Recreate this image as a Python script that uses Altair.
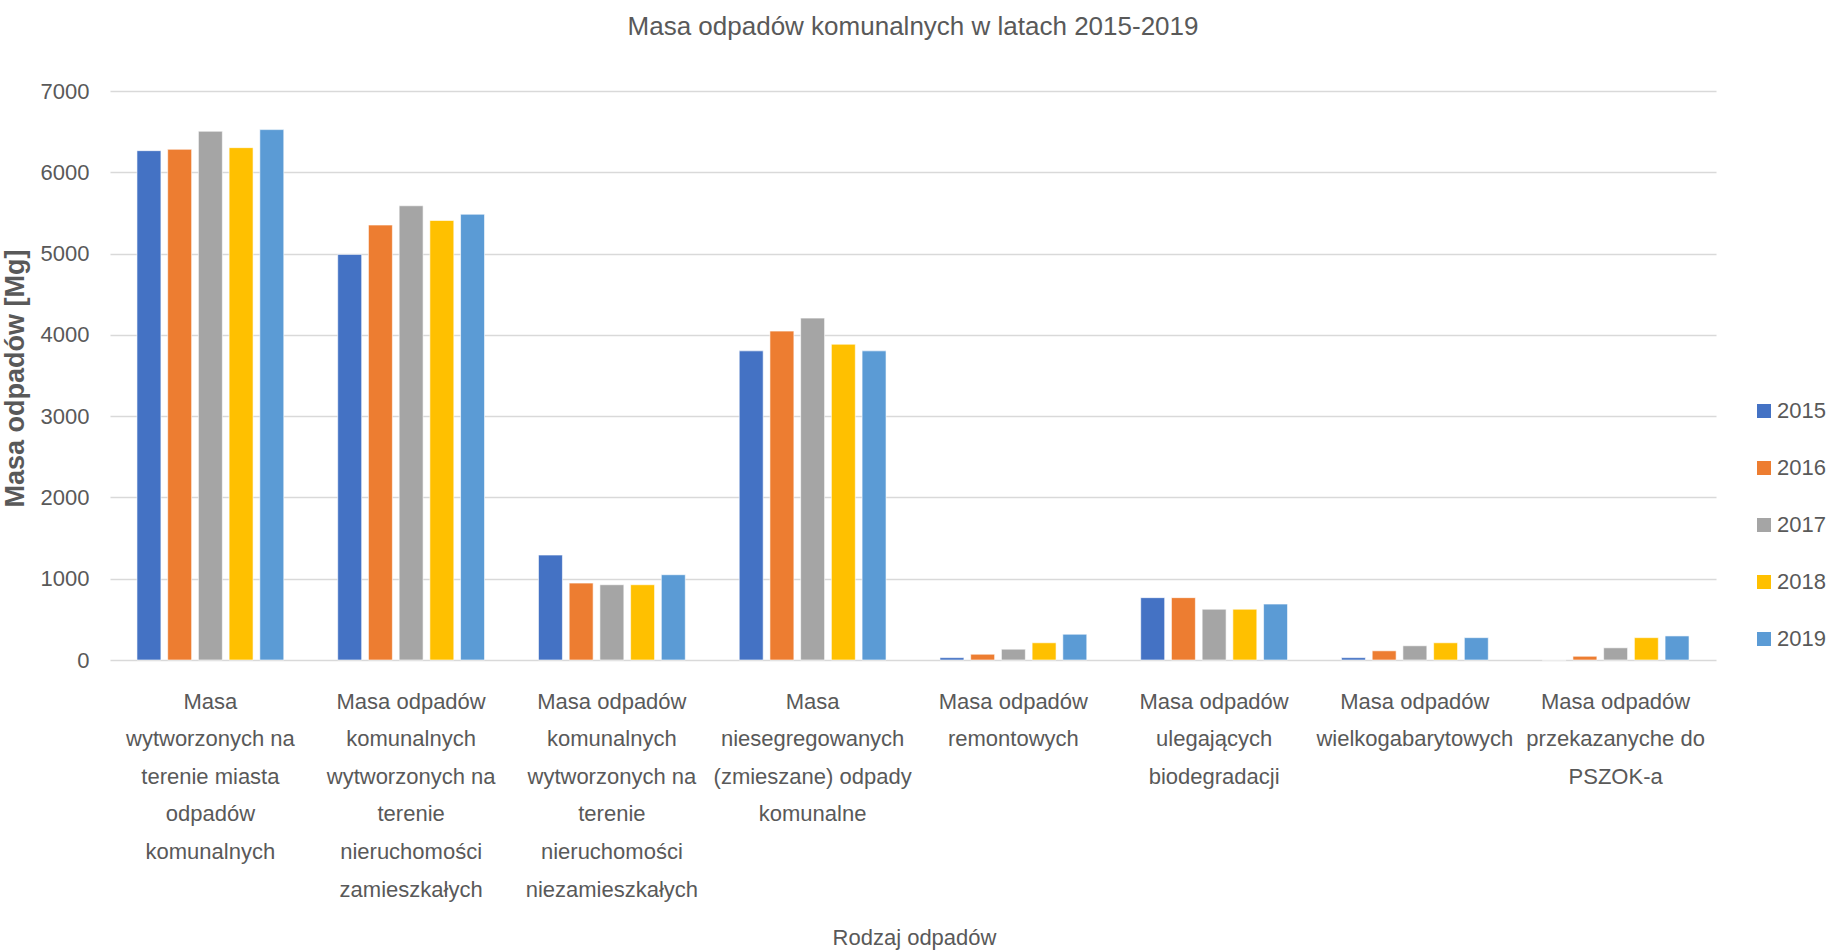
import altair as alt
import pandas as pd

categories = [
    "Masa\nwytworzonych na\nterenie miasta\nodpadów\nkomunalnych",
    "Masa odpadów\nkomunalnych\nwytworzonych na\nterenie\nnieruchomości\nzamieszkałych",
    "Masa odpadów\nkomunalnych\nwytworzonych na\nterenie\nnieruchomości\nniezamieszkałych",
    "Masa\nniesegregowanych\n(zmieszane) odpady\nkomunalne",
    "Masa odpadów\nremontowych",
    "Masa odpadów\nulegających\nbiodegradacji",
    "Masa odpadów\nwielkogabarytowych",
    "Masa odpadów\nprzekazanyche do\nPSZOK-a",
]
years = ["2015", "2016", "2017", "2018", "2019"]
v2015 = [6266, 4990, 1291, 3803, 29, 767, 29, 0]
v2016 = [6283, 5351, 946, 4046, 71, 767, 113, 46]
v2017 = [6505, 5588, 926, 4206, 133, 625, 175, 150]
v2018 = [6303, 5407, 926, 3885, 212, 625, 212, 275]
v2019 = [6525, 5484, 1049, 3803, 317, 688, 275, 296]
colors = ["#4472C4", "#ED7D31", "#A5A5A5", "#FFC000", "#5B9BD5"]
y_ticks = [0, 1000, 2000, 3000, 4000, 5000, 6000, 7000]

series = [v2015, v2016, v2017, v2018, v2019]
rows = []
for yr, vals in zip(years, series):
    for cat, v in zip(categories, vals):
        rows.append({"kategoria": cat, "rok": yr, "wartosc": v})
df = pd.DataFrame(rows)

FONT = "Liberation Sans"
TXT = "#595959"

chart = alt.Chart(df).mark_bar(
    stroke="white", strokeWidth=1, strokeOpacity=0.6
).encode(
    x=alt.X(
        "kategoria:N",
        sort=categories,
        scale=alt.Scale(paddingInner=0.235, paddingOuter=0.1175),
        axis=alt.Axis(
            title="Rodzaj odpadów",
            labelExpr="split(datum.label, '\\n')",
            labelAngle=0,
            labelFont=FONT,
            labelFontSize=22,
            labelColor=TXT,
            labelLineHeight=37.6,
            labelPadding=31,
            labelLimit=400,
            labelOverlap=False,
            labelBaseline="top",
            ticks=False,
            domain=False,
            titleFont=FONT,
            titleFontSize=22,
            titleFontWeight="normal",
            titleColor=TXT,
            titleX=804,
            titleY=277,
            titleAlign="center",
            titleBaseline="middle",
        ),
    ),
    xOffset=alt.XOffset(
        "rok:N", sort=years, scale=alt.Scale(paddingInner=0.22, paddingOuter=0.11)
    ),
    y=alt.Y(
        "wartosc:Q",
        scale=alt.Scale(domain=[0, 7000], nice=False),
        axis=alt.Axis(
            title="Masa odpadów [Mg]",
            values=y_ticks,
            format="d",
            labelFont=FONT,
            labelFontSize=22,
            labelColor=TXT,
            labelPadding=21,
            ticks=False,
            domain=False,
            gridColor="#d9d9d9",
            gridWidth=1.5,
            titleFont=FONT,
            titleFontSize=27,
            titleFontWeight="bold",
            titleColor=TXT,
            titleAngle=270,
            titleX=-95,
            titleY=287,
            titleAlign="center",
            titleBaseline="middle",
        ),
    ),
    color=alt.Color(
        "rok:N",
        scale=alt.Scale(domain=years, range=colors),
        legend=alt.Legend(
            title=None,
            orient="none",
            legendX=1643,
            legendY=309,
            symbolType="square",
            symbolSize=196,
            symbolStrokeWidth=0,
            labelFont=FONT,
            labelFontSize=22,
            labelColor=TXT,
            labelOffset=2,
            rowPadding=35,
        ),
    ),
).properties(
    width=1606,
    height=569,
    title=alt.TitleParams(
        "Masa odpadów komunalnych w latach 2015-2019",
        font=FONT,
        fontSize=26,
        fontWeight="normal",
        color=TXT,
        anchor="middle",
        offset=40,
    ),
    autosize=alt.AutoSizeParams(type="none"),
    padding={"left": 110, "top": 91, "right": 115, "bottom": 292},
    background="white",
).configure_view(stroke=None)

chart.save("out.html", embed_options={"renderer": "svg", "actions": False})
